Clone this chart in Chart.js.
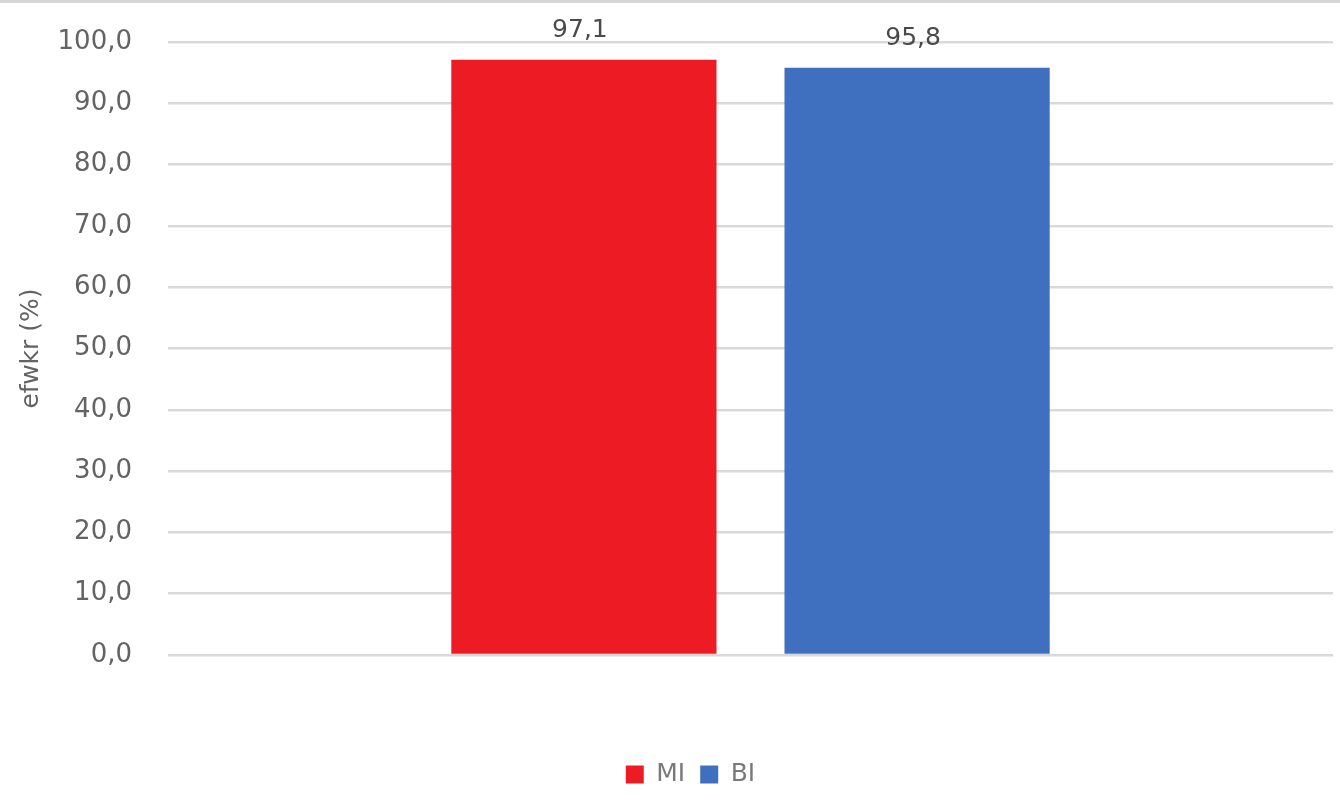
<!DOCTYPE html>
<html>
<head>
<meta charset="utf-8">
<script src="https://cdn.jsdelivr.net/npm/chart.js@4.4.1/dist/chart.umd.min.js"></script>
<style>
  html, body { margin: 0; padding: 0; background: #ffffff; }
  #wrap { position: absolute; left: 0; top: 0; width: 1340px; height: 800px; }
  #topline { position: absolute; left: 0; top: 0; width: 1340px; height: 3px; background: #d6d6d6; z-index: 2; }
</style>
</head>
<body>
<div id="topline"></div>
<div id="wrap"><canvas id="c"></canvas></div>
<script>
const categories = [""];
const seriesNames = ["MI", "BI"];
const valuesMI = [97.1];
const valuesBI = [95.8];
const yTicks = [0, 10, 20, 30, 40, 50, 60, 70, 80, 90, 100];
const yTitle = "efwkr (%)";

const FONT = "'DejaVu Sans', sans-serif";
const TEXT = "#636363";
const fmt = v => Number(v).toFixed(1).replace('.', ',');

const valueLabels = {
  id: 'valueLabels',
  afterDatasetsDraw(chart) {
    const ctx = chart.ctx;
    ctx.save();
    ctx.font = "25px " + FONT;
    ctx.fillStyle = "#4a4a4a";
    ctx.textAlign = "center";
    ctx.textBaseline = "middle";
    chart.data.datasets.forEach((ds, i) => {
      chart.getDatasetMeta(i).data.forEach((bar, j) => {
        ctx.fillText(fmt(ds.data[j]), bar.x - 4, bar.y - 29);
      });
    });
    ctx.restore();
  }
};

const legendShift = {
  id: 'legendShift',
  afterLayout(chart) {
    const lg = chart.legend;
    if (lg) { lg.left += 24; lg.right += 24; }
  }
};

new Chart(document.getElementById('c'), {
  type: 'bar',
  data: {
    labels: categories,
    datasets: [
      { label: seriesNames[0], data: valuesMI, backgroundColor: "#ED1C24", borderWidth: 0 },
      { label: seriesNames[1], data: valuesBI, backgroundColor: "#3F70BF", borderWidth: 0 }
    ]
  },
  options: {
    responsive: true,
    maintainAspectRatio: false,
    animation: false,
    categoryPercentage: 0.572,
    barPercentage: 0.796,
    layout: { padding: { top: 42, right: 7, bottom: 3, left: 0 } },
    plugins: {
      legend: {
        position: 'bottom',
        labels: {
          boxWidth: 18, boxHeight: 18, padding: 15,
          color: "#7a7a7a", font: { family: FONT, size: 25 }
        }
      },
      tooltip: { enabled: false }
    },
    scales: {
      x: {
        grid: { display: false },
        border: { display: false },
        ticks: { display: false },
        afterFit(scale) { scale.height = 92; }
      },
      y: {
        min: 0, max: 100,
        afterBuildTicks(scale) { scale.ticks = yTicks.map(v => ({ value: v })); },
        afterFit(scale) { scale.width = 168; },
        grid: { color: "#d9d9d9", lineWidth: 2.5, drawTicks: true, tickLength: 33, tickColor: "rgba(0,0,0,0)" },
        border: { display: false },
        ticks: {
          padding: 3, color: TEXT,
          font: { family: FONT, size: 26 },
          callback: v => fmt(v)
        },
        title: {
          display: true, text: yTitle, color: TEXT,
          font: { family: FONT, size: 25 },
          padding: { top: 16, bottom: 0 }
        }
      }
    }
  },
  plugins: [valueLabels, legendShift]
});
</script>
</body>
</html>
